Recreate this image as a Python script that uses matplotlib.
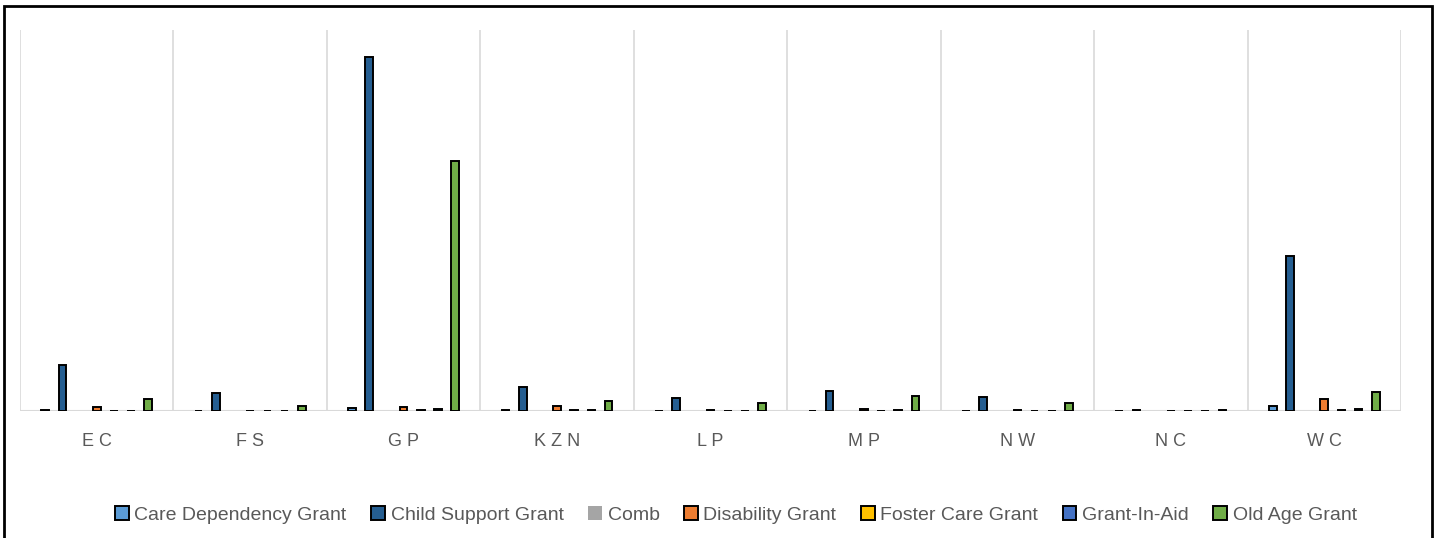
import matplotlib
matplotlib.use("Agg")
import matplotlib.pyplot as plt
from matplotlib.patches import Rectangle
import numpy as np

regions = ["EC", "FS", "GP", "KZN", "LP", "MP", "NW", "NC", "WC"]
series_names = ["Care Dependency Grant", "Child Support Grant", "Comb", "Disability Grant",
                "Foster Care Grant", "Grant-In-Aid", "Old Age Grant"]
colors = ["#5B9BD5", "#255E91", "#A5A5A5", "#ED7D31", "#FFC000", "#4472C4", "#70AD47"]

care_dependency = [1.5, 0, 3, 1, 0.5, 0.5, 0.5, 0.5, 5]
child_support = [46, 18, 354, 24, 13, 20, 14, 0.8, 155]
comb = [0, 0, 0, 0, 0, 0, 0, 0, 0]
disability = [4, 0.4, 4.5, 5, 1, 2, 1.5, 0.5, 12]
foster_care = [0, 0.4, 1, 1, 0, 0, 0.5, 0, 1.5]
grant_in_aid = [0.5, 0.4, 2, 1.5, 0.5, 1, 0.5, 0.5, 2]
old_age = [12, 5, 250, 10, 8, 15, 8, 0.8, 19]

data = [care_dependency, child_support, comb, disability, foster_care, grant_in_aid, old_age]

W, H = 1436, 538
fig = plt.figure(figsize=(W / 100, H / 100), dpi=100)
ax = fig.add_axes([20 / W, (H - 411) / H, (1401 - 20) / W, (411 - 30) / H])

x = np.arange(len(regions))
step = 0.112
bw = 0.05
for i, (name, vals, c) in enumerate(zip(series_names, data, colors)):
    ec = "none" if name == "Comb" else "black"
    ax.bar(x + (i - 3) * step, vals, width=bw, color=c, edgecolor=ec, linewidth=1.4,
           label=name, zorder=3)

ax.set_xlim(-0.5, len(regions) - 0.5)
ax.set_ylim(0, 381)
for b in np.arange(-0.5, len(regions), 1.0):
    ax.axvline(b, color="#D9D9D9", lw=1.2, zorder=1)
for s in ax.spines.values():
    s.set_visible(False)
ax.axhline(0, color="#D9D9D9", lw=1.5, zorder=2)
ax.set_yticks([])
ax.set_xticks(x)
ax.set_xticklabels([" ".join(r) for r in regions], fontsize=13, color="#595959",
                   family=["Liberation Sans", "DejaVu Sans"])
ax.tick_params(axis="x", length=0, pad=16)

handles, labels = ax.get_legend_handles_labels()
leg = fig.legend(handles, labels, loc="center", bbox_to_anchor=(0.5 + 18 / W, (H - 515) / H),
                 ncol=7, frameon=False, handlelength=0.7, handleheight=0.7,
                 handletextpad=0.3, columnspacing=1.26,
                 prop={"family": ["Liberation Sans", "DejaVu Sans"], "size": 14})
for t in leg.get_texts():
    t.set_color("#595959")

fig.patches.append(Rectangle((4 / W, -0.05), (1432 - 4) / W, (H - 6) / H + 0.05,
                             transform=fig.transFigure, fill=False, edgecolor="black",
                             lw=2, clip_on=False))

fig.savefig("out.png", dpi=100)
